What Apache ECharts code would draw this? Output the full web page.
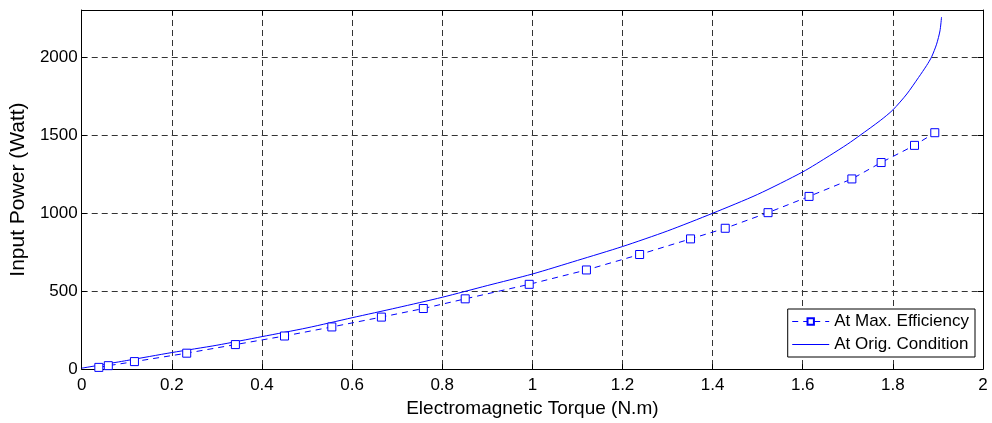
<!DOCTYPE html>
<html>
<head>
<meta charset="utf-8">
<script src="https://cdn.jsdelivr.net/npm/echarts@6/dist/echarts.min.js"></script>
<style>
html,body{margin:0;padding:0;background:#fff;}
#chart{width:992px;height:423px;}
</style>
</head>
<body>
<div id="chart"></div>
<script>
// Series: At Max. Efficiency (dashed with square markers)
var maxEffTorque = [0.038, 0.059, 0.117, 0.233, 0.341, 0.450, 0.555, 0.665, 0.758, 0.851, 0.993, 1.120, 1.238, 1.351, 1.428, 1.523, 1.614, 1.709, 1.774, 1.848, 1.893];
var maxEffPower  = [11, 22, 48, 102, 157, 212, 270, 333, 388, 450, 543, 635, 734, 834, 902, 1002, 1106, 1218, 1323, 1433, 1514];
// Series: At Orig. Condition (solid)
var origTorque = [0, 0.1, 0.2, 0.3, 0.4, 0.5, 0.6, 0.7, 0.8, 0.9, 1.0, 1.1, 1.2, 1.3, 1.4, 1.5, 1.6, 1.66, 1.7, 1.727, 1.772, 1.8, 1.831, 1.857, 1.875, 1.886, 1.897, 1.9045, 1.908];
var origPower  = [6, 55, 106, 153, 208, 264, 329, 393, 460, 535, 609, 696, 785, 885, 998, 1119, 1263, 1368, 1442, 1497, 1592, 1660, 1762, 1868, 1945, 2000, 2081, 2166, 2255];

var xTicks = ['0','0.2','0.4','0.6','0.8','1','1.2','1.4','1.6','1.8','2'];
var yTicks = ['0','500','1000','1500','2000'];

function zip(a, b) { return a.map(function (v, i) { return [v, b[i]]; }); }

var FONT = 'Liberation Sans, Arial, sans-serif';
var gridLine = { show: true, lineStyle: { color: '#333', type: [6, 4], width: 1 } };
var frame = { show: true, onZero: false, lineStyle: { color: '#000', width: 1 } };

var chart = echarts.init(document.getElementById('chart'), null, { renderer: 'canvas' });
chart.setOption({
  backgroundColor: '#fff',
  animation: false,
  grid: { left: 80, right: 9, top: 10, bottom: 53, containLabel: false },
  legend: {
    orient: 'vertical',
    right: 17,
    top: 309,
    padding: [4, 6, 4, 4],
    itemGap: 6,
    itemWidth: 37,
    itemHeight: 8,
    borderColor: '#000',
    borderWidth: 1,
    backgroundColor: '#fff',
    lineStyle: { width: 1 },
    textStyle: { fontFamily: FONT, fontSize: 17, color: '#000' },
    data: [
      { name: 'At Max. Efficiency' },
      { name: 'At Orig. Condition', icon: 'path://M0,0 L37,0 L37,1 L0,1 Z', itemStyle: { color: '#0000ff' } }
    ]
  },
  xAxis: [{
    type: 'value', min: 0, max: 2, interval: 0.2, position: 'bottom',
    name: 'Electromagnetic Torque (N.m)', nameLocation: 'middle', nameGap: 23,
    nameTextStyle: { fontFamily: FONT, fontSize: 19, color: '#000' },
    axisLine: frame,
    axisTick: { show: true, inside: true, length: 5, lineStyle: { color: '#000' } },
    axisLabel: { fontFamily: FONT, fontSize: 17, color: '#000', margin: 8,
      formatter: function (v) { var i = Math.round(v / 0.2); return xTicks[i] !== undefined ? xTicks[i] : ''; } },
    splitLine: gridLine
  }, {
    type: 'value', min: 0, max: 2, interval: 0.2, position: 'top',
    axisLine: frame,
    axisTick: { show: true, inside: true, length: 5, lineStyle: { color: '#000' } },
    axisLabel: { show: false }, splitLine: { show: false }
  }],
  yAxis: [{
    type: 'value', min: 0, max: 2300, interval: 500, position: 'left',
    name: 'Input Power (Watt)', nameLocation: 'middle', nameGap: 48,
    nameTextStyle: { fontFamily: FONT, fontSize: 21, color: '#000' },
    axisLine: frame,
    axisTick: { show: true, inside: true, length: 5, lineStyle: { color: '#000' } },
    axisLabel: { fontFamily: FONT, fontSize: 17, color: '#000', margin: 4, showMaxLabel: false,
      formatter: function (v) { var i = Math.round(v / 500); return (v % 500 === 0 && yTicks[i] !== undefined) ? yTicks[i] : ''; } },
    splitLine: gridLine
  }, {
    type: 'value', min: 0, max: 2300, interval: 500, position: 'right',
    axisLine: frame,
    axisTick: { show: true, inside: true, length: 5, lineStyle: { color: '#000' } },
    axisLabel: { show: false }, splitLine: { show: false }
  }],
  series: [{
    name: 'At Max. Efficiency',
    type: 'line',
    data: zip(maxEffTorque, maxEffPower),
    symbol: 'rect',
    symbolSize: 8,
    showAllSymbol: true,
    itemStyle: { color: '#fff', borderColor: '#0000ff', borderWidth: 1 },
    lineStyle: { color: '#0000ff', width: 1, type: [6, 5] },
    color: '#0000ff',
    z: 3
  }, {
    name: 'At Orig. Condition',
    type: 'line',
    data: zip(origTorque, origPower),
    symbol: 'none',
    smooth: 0.25,
    lineStyle: { color: '#0000ff', width: 1 },
    itemStyle: { color: '#0000ff' },
    color: '#0000ff',
    z: 2
  }]
});
</script>
</body>
</html>
